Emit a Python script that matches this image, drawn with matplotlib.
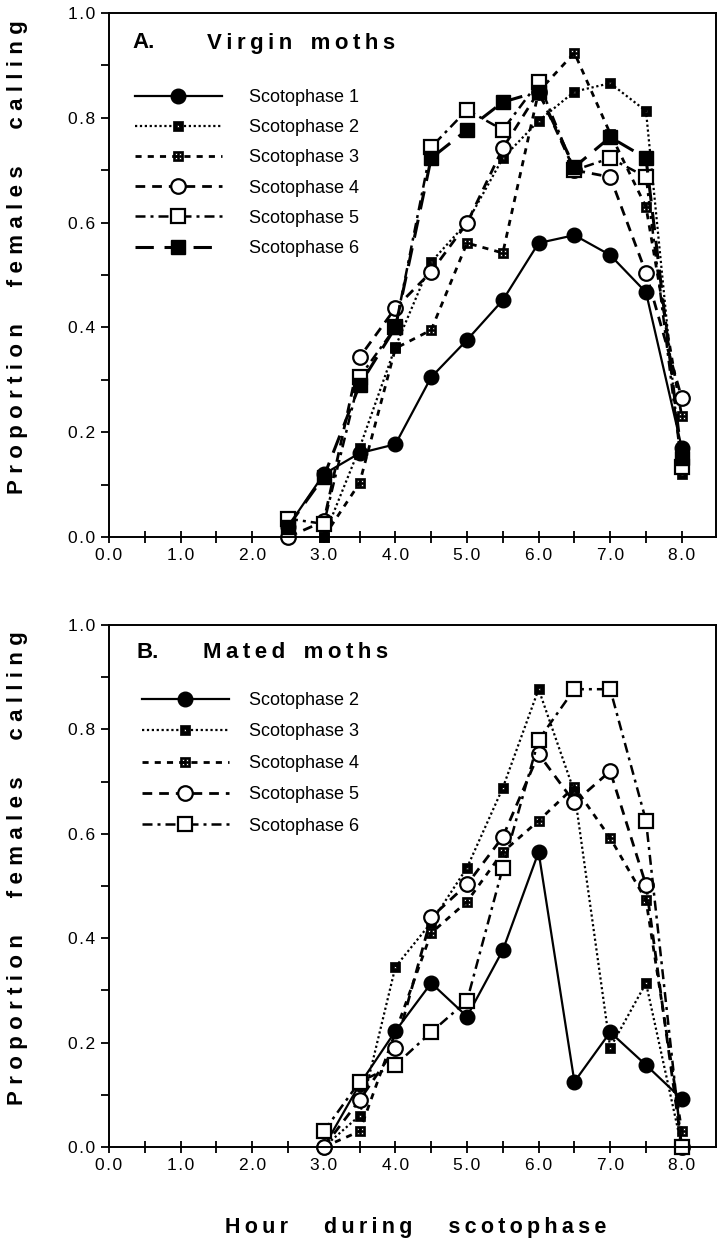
import numpy as np
import matplotlib
matplotlib.use("Agg")
import matplotlib.pyplot as plt
from matplotlib.path import Path
from matplotlib.ticker import MultipleLocator, FixedLocator

plt.rcParams['font.family'] = ['Liberation Sans', 'DejaVu Sans']

nan = np.nan
# ---------------- data ----------------
hours_A = [2.5, 3.0, 3.5, 4.0, 4.5, 5.0, 5.5, 6.0, 6.5, 7.0, 7.5, 8.0]
virgin_s1 = [0.02, 0.12, 0.16, 0.177, 0.305, 0.376, 0.452, 0.561, 0.576, 0.538, 0.467, 0.17]
virgin_s2 = [nan, 0.0, 0.17, 0.363, 0.525, 0.60, 0.723, 0.794, 0.85, 0.866, 0.813, 0.12]
virgin_s3 = [nan, 0.0, 0.103, 0.36, 0.395, 0.561, 0.542, 0.85, 0.924, 0.77, 0.63, 0.23]
virgin_s4 = [0.0, 0.03, 0.343, 0.437, 0.506, 0.599, 0.742, 0.85, 0.70, 0.687, 0.504, 0.265]
virgin_s5 = [0.035, 0.025, 0.305, 0.40, 0.744, 0.815, 0.777, 0.868, 0.70, 0.723, 0.687, 0.134]
virgin_s6 = [0.02, 0.115, 0.29, 0.40, 0.723, 0.777, 0.83, 0.85, 0.706, 0.763, 0.723, 0.15]

hours_B = [3.0, 3.5, 4.0, 4.5, 5.0, 5.5, 6.0, 6.5, 7.0, 7.5, 8.0]
mated_s2 = [0.0, 0.12, 0.222, 0.314, 0.25, 0.377, 0.565, 0.125, 0.22, 0.157, 0.092]
mated_s3 = [0.0, 0.06, 0.345, 0.43, 0.535, 0.688, 0.877, 0.68, 0.19, 0.314, 0.0]
mated_s4 = [0.0, 0.03, 0.22, 0.41, 0.47, 0.565, 0.625, 0.69, 0.592, 0.473, 0.03]
mated_s5 = [0.0, 0.09, 0.19, 0.44, 0.503, 0.594, 0.753, 0.66, 0.72, 0.502, 0.0]
mated_s6 = [0.03, 0.125, 0.157, 0.22, 0.28, 0.535, 0.78, 0.877, 0.877, 0.625, 0.0]

labels_A = ['Scotophase 1', 'Scotophase 2', 'Scotophase 3', 'Scotophase 4', 'Scotophase 5', 'Scotophase 6']
labels_B = ['Scotophase 2', 'Scotophase 3', 'Scotophase 4', 'Scotophase 5', 'Scotophase 6']
xtick_vals = [0, 1, 2, 3, 4, 5, 6, 7, 8]
ytick_vals = [0.0, 0.2, 0.4, 0.6, 0.8, 1.0]

# ---------------- custom markers ----------------
def sq(cx, cy, h, ccw=True):
    v = [(cx - h, cy - h), (cx + h, cy - h), (cx + h, cy + h), (cx - h, cy + h)]
    if not ccw:
        v = v[::-1]
    return v + [v[0]]

def holed(holes):
    verts = sq(0, 0, 1.0)
    codes = [Path.MOVETO] + [Path.LINETO] * 3 + [Path.CLOSEPOLY]
    for (cx, cy, h) in holes:
        verts += sq(cx, cy, h, ccw=False)
        codes += [Path.MOVETO] + [Path.LINETO] * 3 + [Path.CLOSEPOLY]
    return Path(verts, codes)

dot_sq = holed([(0, 0, 0.3)])
grid_sq = holed([(-0.42, -0.42, 0.2), (0.42, -0.42, 0.2), (-0.42, 0.42, 0.2), (0.42, 0.42, 0.2)])

st_filled_circle = dict(marker='o', ms=10.5, mfc='black', mec='black', color='black',
                        ls='-', lw=1.6)
st_dotsq = dict(marker=dot_sq, ms=7, mfc='black', mec='black', mew=0.5, color='black',
                ls=(0, (1, 1.2)), lw=1.6)
st_gridsq = dict(marker=grid_sq, ms=7.5, mfc='black', mec='black', mew=0.5, color='black',
                 ls=(0, (2.2, 2.2)), lw=2.0)
st_open_circle = dict(marker='o', ms=10.5, mfc='white', mec='black', mew=1.6, color='black',
                      ls=(0, (3.5, 2.5)), lw=2.0)
st_open_sq = dict(marker='s', ms=10.5, mfc='white', mec='black', mew=1.6, color='black',
                  ls=(0, (4, 2, 1.2, 2)), lw=1.8)
st_filled_sq = dict(marker='s', ms=10.5, mfc='black', mec='black', color='black',
                    ls=(0, (6, 3.5)), lw=2.2)

def spaced(s, sep='\u2009'):
    return sep.join(s)

fig = plt.figure(figsize=(7.17, 12.42), dpi=100)
W, H = 717.0, 1242.0
axA = fig.add_axes([109 / W, 1 - 537 / H, 607 / W, 524 / H])
axB = fig.add_axes([109 / W, 1 - 1147 / H, 607 / W, 522 / H])

A_series = [virgin_s1, virgin_s2, virgin_s3, virgin_s4, virgin_s5, virgin_s6]
A_styles = [st_filled_circle, st_dotsq, st_gridsq, st_open_circle, st_open_sq, st_filled_sq]
for vals, st, lab in zip(A_series, A_styles, labels_A):
    axA.plot(hours_A, vals, label=lab, clip_on=False, **st)

B_series = [mated_s2, mated_s3, mated_s4, mated_s5, mated_s6]
B_styles = [st_filled_circle, st_dotsq, st_gridsq, st_open_circle, st_open_sq]
for vals, st, lab in zip(B_series, B_styles, labels_B):
    axB.plot(hours_B, vals, label=lab, clip_on=False, **st)

for ax in (axA, axB):
    ax.set_xlim(0, 607 / 71.6)
    ax.set_ylim(0, 1.0)
    ax.xaxis.set_major_locator(FixedLocator(xtick_vals))
    ax.xaxis.set_minor_locator(MultipleLocator(0.5))
    ax.yaxis.set_major_locator(FixedLocator(ytick_vals))
    ax.yaxis.set_minor_locator(MultipleLocator(0.1))
    ax.set_xticklabels([spaced('%.1f' % v, '\u200a') for v in xtick_vals])
    ax.set_yticklabels([spaced('%.1f' % v, '\u200a') for v in ytick_vals])
    ax.tick_params(axis='x', which='both', direction='inout', length=8, width=1.3,
                   labelsize=12.5, pad=4)
    ax.tick_params(axis='y', which='both', direction='out', length=6, width=1.3,
                   labelsize=12.5, pad=4)
    for sp in ax.spines.values():
        sp.set_linewidth(1.4)

legA = axA.legend(loc='upper left', bbox_to_anchor=((135 - 109) / 607, (537 - 89) / 524),
                  frameon=False, fontsize=13, handlelength=4.8, handletextpad=1.5,
                  labelspacing=0.73, borderpad=0, borderaxespad=0, numpoints=1)
legB = axB.legend(loc='upper left', bbox_to_anchor=((142 - 109) / 607, (1147 - 692) / 522),
                  frameon=False, fontsize=13, handlelength=4.8, handletextpad=1.1,
                  labelspacing=0.8, borderpad=0, borderaxespad=0, numpoints=1)

tfont = dict(fontsize=16, fontweight='bold', va='center', ha='left')
axA.text((132 - 109) / 607, (537 - 43) / 524, 'A.', transform=axA.transAxes, **tfont)
axA.text((207 - 109) / 607, (537 - 43) / 524, spaced('Virgin') + '   ' + spaced('moths'),
         transform=axA.transAxes, **tfont)
axB.text((137 - 109) / 607, (1147 - 652) / 522, 'B.', transform=axB.transAxes, **tfont)
axB.text((203 - 109) / 607, (1147 - 652) / 522, spaced('Mated') + '   ' + spaced('moths'),
         transform=axB.transAxes, **tfont)

ysep = '\u2009\u200a'
ylab = spaced('Proportion', ysep) + '      ' + spaced('females', ysep) + '      ' + spaced('calling', ysep)
fig.text(18 / W, 1 - 257 / H, ylab, rotation=90, fontsize=16, fontweight='bold',
         ha='center', va='center')
fig.text(18 / W, 1 - 868 / H, ylab, rotation=90, fontsize=16, fontweight='bold',
         ha='center', va='center')
fig.text(416 / W, 1 - 1227 / H, spaced('Hour') + '      ' + spaced('during') + '      ' + spaced('scotophase'),
         fontsize=15.5, fontweight='bold', ha='center', va='center')

fig.savefig('out.png', dpi=100)
